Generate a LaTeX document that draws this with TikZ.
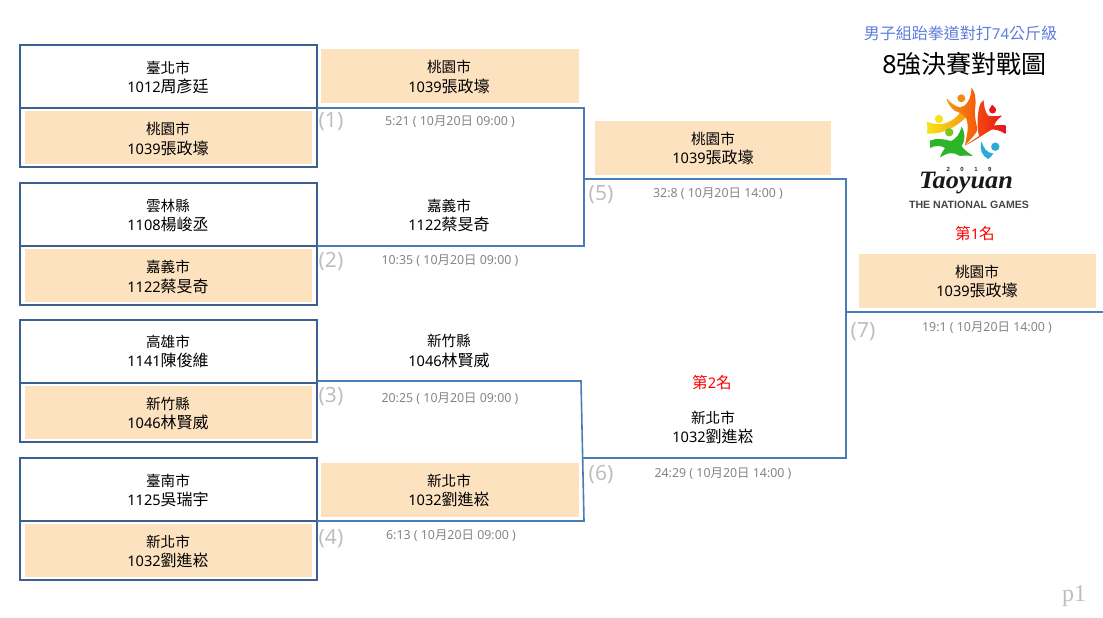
\documentclass[tikz,border=0pt]{standalone}
\usepackage{fontspec}
\usepackage{graphicx}
\setmainfont{Noto Sans CJK TC}
\newfontfamily\dgfont{Noto Sans}
\newfontfamily\psfont{Liberation Serif}
\newfontfamily\arfont{Liberation Sans}
\newfontfamily\tyfont{Liberation Serif}
\definecolor{boxline}{HTML}{3C6090}
\definecolor{brk}{HTML}{4A7CB8}
\definecolor{hl}{HTML}{FDE2C0}
\definecolor{capc}{HTML}{848484}
\definecolor{numg}{HTML}{BEBEBE}
\definecolor{ttl}{HTML}{5E7EDC}
\definecolor{lgred}{HTML}{E8141C}
\definecolor{lgorange}{HTML}{F39A10}
\definecolor{lgyellow}{HTML}{F7E418}
\definecolor{lggreen}{HTML}{2DB52A}
\definecolor{lglime}{HTML}{7CC520}
\definecolor{lgblue}{HTML}{29ABD6}
\newcommand{\dg}[1]{{\dgfont\fontsize{14.6}{18}\selectfont #1}}
\newcommand{\ent}[3]{#1\\[.5pt]\dg{#2}{\fontsize{16}{19}\selectfont #3}}
\tikzset{
 x=1pt,y=-1pt,
 every node/.style={inner sep=0pt,outer sep=0pt},
 slot/.style={draw=boxline,line width=2pt,minimum width=297pt,anchor=north west},
 topslot/.style={slot,minimum height=63pt},
 botslot/.style={slot,minimum height=59pt},
 hlbox/.style={fill=hl,anchor=north west},
 who/.style={align=center,text=black,anchor=center,font=\fontsize{14.6}{19}\selectfont},
 capt/.style={text=capc,anchor=center},
 rno/.style={text=numg,font=\dgfont\fontsize{21}{23}\selectfont,anchor=center},
 brline/.style={draw=brk,line width=1.6pt},
}
\newcommand{\cpd}[1]{{\dgfont\fontsize{12.4}{14}\selectfont #1}}
\newcommand{\capline}[2]{\cpd{#1 ( 10}{\fontsize{12.4}{14}\selectfont 月}\cpd{20}{\fontsize{12.4}{14}\selectfont 日}\cpd{ #2 )}}
\begin{document}
\begin{tikzpicture}
\useasboundingbox (0,0) rectangle (1103,618);
% highlights second/third round
\node[hlbox,minimum width=258pt,minimum height=54pt] (h1) at (321,49) {};
\node[hlbox,minimum width=236pt,minimum height=54pt] (h5) at (595,121) {};
\node[hlbox,minimum width=258pt,minimum height=54pt] (h4) at (321,463) {};
\node[hlbox,minimum width=237pt,minimum height=54pt] (h7) at (859,254) {};
% junctions
\coordinate (j1) at (584,108);
\coordinate (j2) at (584,246);
\coordinate (j3) at (581,381);
\coordinate (j4) at (584,521);
\coordinate (j5) at (846,179);
\coordinate (j6) at (846,458);
\coordinate (j5s) at (584,179);
\coordinate (j6s) at (582.5,458);
\coordinate (j7s) at (846,312);
\coordinate (j7e) at (1103,312);
\coordinate (j3s) at (317,381);
% left slots
\foreach \n/\ya/\yb in {1/45/108,2/183/246,3/320/383,4/458/521}{
 \node[topslot] (t\n) at (20,\ya) {};
 \node[botslot] (b\n) at (20,\yb) {};
 \node[hlbox,minimum width=287pt,minimum height=53pt] (f\n) at (25,\yb+3) {};
}
% connectors
\draw[brline] (b1.north east) -- (j1) -- (j2) -- (b2.north east);
\draw[brline] (j3s) -- (j3) -- (j4) -- (b4.north east);
\draw[brline] (j5s) -- (j5) -- (j6) -- (j6s);
\draw[brline] (j7s) -- (j7e);
% entries
\node[who] (e1) at (168,77.5) {\ent{臺北市}{1012}{周彥廷}};
\node[who] (e2) at (168,139) {\ent{桃園市}{1039}{張政壕}};
\node[who] (e3) at (168,215.5) {\ent{雲林縣}{1108}{楊峻丞}};
\node[who] (e4) at (168,277) {\ent{嘉義市}{1122}{蔡旻奇}};
\node[who] (e5) at (168,351.5) {\ent{高雄市}{1141}{陳俊維}};
\node[who] (e6) at (168,413.5) {\ent{新竹縣}{1046}{林賢威}};
\node[who] (e7) at (168,490.5) {\ent{臺南市}{1125}{吳瑞宇}};
\node[who] (e8) at (168,551.5) {\ent{新北市}{1032}{劉進崧}};
\node[who] (s1) at (449,77) {\ent{桃園市}{1039}{張政壕}};
\node[who] (s2) at (449,215.5) {\ent{嘉義市}{1122}{蔡旻奇}};
\node[who] (s3) at (449,351) {\ent{新竹縣}{1046}{林賢威}};
\node[who] (s4) at (449,490.5) {\ent{新北市}{1032}{劉進崧}};
\node[who] (q1) at (713,148.5) {\ent{桃園市}{1039}{張政壕}};
\node[who] (q2) at (713,427.5) {\ent{新北市}{1032}{劉進崧}};
\node[who] (c1) at (977,281.5) {\ent{桃園市}{1039}{張政壕}};
\node[who,text=red,font=\fontsize{15.6}{19}\selectfont] (p1) at (975,234) {第\dg{1}名};
\node[who,text=red,font=\fontsize{15.6}{19}\selectfont] (p2) at (712,383) {第\dg{2}名};
% captions
\node[capt] (k1) at (450,122) {\capline{5:21}{09:00}};
\node[capt] (k2) at (450,261) {\capline{10:35}{09:00}};
\node[capt] (k3) at (450,399) {\capline{20:25}{09:00}};
\node[capt] (k4) at (451,536) {\capline{6:13}{09:00}};
\node[capt] (k5) at (718,194) {\capline{32:8}{14:00}};
\node[capt] (k6) at (723,474) {\capline{24:29}{14:00}};
\node[capt] (k7) at (987,328) {\capline{19:1}{14:00}};
% round numbers
\node[rno] (n1) at (331,122) {(1)};
\node[rno] (n2) at (331,262) {(2)};
\node[rno] (n3) at (331,397) {(3)};
\node[rno] (n4) at (331,539) {(4)};
\node[rno] (n5) at (601,195) {(5)};
\node[rno] (n6) at (601,475) {(6)};
\node[rno] (n7) at (863,332) {(7)};
% titles
\node[anchor=center,text=ttl,font=\fontsize{16}{18}\selectfont] (tt1) at (960.5,33) {男子組跆拳道對打{\dgfont\fontsize{15}{18}\selectfont 74}公斤級};
\node[anchor=center,text=black,font=\fontsize{25}{28}\selectfont] (tt2) at (964.5,64) {{\dgfont 8}強決賽對戰圖};
% logo: red figure
\shade[left color=orange!70!lgred,right color=lgred] (965,145.5) .. controls (970,142) and (975,139) .. (979,136) .. controls (977,128) and (977,118) .. (979,108) .. controls (979,105) and (981,102) .. (983.5,100) .. controls (984,106) and (985,112) .. (988,115.5) .. controls (992,117) and (998,116) .. (1002,115.5) .. controls (1000,118) and (996,120) .. (994,125.5) .. controls (998,125) and (1002,125) .. (1005.5,125) .. controls (1005,128) and (1005.5,131) .. (1005.5,134) .. controls (1000,130) and (995,129.5) .. (992,129.5) .. controls (985,133) and (975,141) .. (965,145.5) -- cycle;
\fill[lgred] (992.6,110) circle (3.5);
\fill[lgred] (990,109) -- (992,104.5) -- (995.5,108.5) -- cycle;
% logo: yellow to orange figure
\shade[left color=lgyellow,right color=lgorange] (926.5,121.5) .. controls (935,125) and (945,126) .. (955,118) .. controls (958,116) and (960,113) .. (961,110) -- (967,116) .. controls (960,124) and (945,135) .. (927,133.5) .. controls (927.5,129) and (927.5,125) .. (926.5,121.5) -- cycle;
\shade[left color=lgorange,right color=orange!60!lgred] (946.5,98) .. controls (950,103) and (955,106) .. (960,107.5) .. controls (967,106) and (971,99) .. (971.5,88) .. controls (976,92) and (976,102) .. (975,110) .. controls (974,120) and (979,130) .. (976.5,132) .. controls (973,137) and (969,141) .. (965,145.5) .. controls (966,137) and (970,128) .. (966,118) .. controls (963,114) and (959,112) .. (955,111) .. controls (951,108) and (947,103) .. (946.5,98) -- cycle;
\fill[lgorange!90!red] (961.3,98.3) circle (4);
\fill[lgyellow] (939,119) circle (4.2);
% logo: green figure
\fill[lggreen] (930,140.5) .. controls (937,138) and (944,139) .. (951,141) .. controls (956,139) and (960,134) .. (961.5,126.5) .. controls (965,132) and (966,140) .. (961.5,146) .. controls (964,150) and (969,153) .. (973,156) .. controls (968,155.5) and (964,155.5) .. (960,156) .. controls (954,152) and (948,152) .. (940,157.5) .. controls (941,153) and (944,150) .. (945,148) .. controls (940,145) and (935,145.5) .. (930,148) -- cycle;
\fill[lglime] (949.3,132.3) circle (4.2);
% logo: blue figure
\fill[lgblue] (981.7,141.3) .. controls (983,148) and (987,153) .. (993.3,153.5) .. controls (992,156) and (990,158) .. (988,159) .. controls (982,156) and (979,149) .. (981.7,141.3) -- cycle;
\fill[lgblue] (995.3,146.7) circle (4.2);
\node[anchor=base,text=black!90,font=\tyfont\itshape\bfseries\fontsize{25}{26}\selectfont] (ty) at (966,188) {\scalebox{1.05}[1]{Taoyuan}};
\node[anchor=center,text=black!85,font=\arfont\bfseries\fontsize{6}{7}\selectfont] (yr) at (969,169.5) {2\hspace{10.5pt}0\hspace{10.5pt}1\hspace{10.5pt}9};
\node[anchor=center,text=black!72,font=\arfont\bfseries\fontsize{10.6}{12}\selectfont] (nat) at (969,205) {THE NATIONAL GAMES};
\node[anchor=center,text=numg,font=\psfont\fontsize{24}{26}\selectfont] (pg) at (1074,596) {p1};
\end{tikzpicture}
\end{document}
